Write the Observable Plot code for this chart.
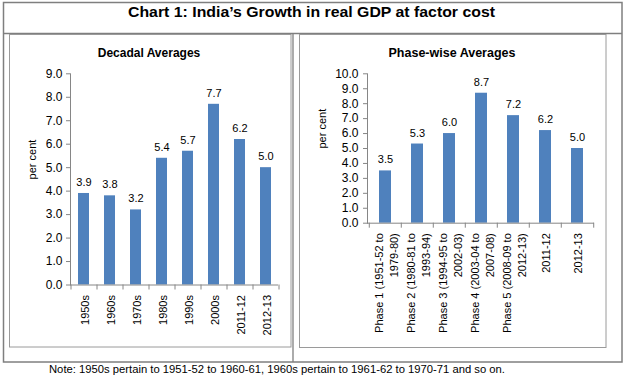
<!DOCTYPE html>
<html>
<head>
<meta charset="utf-8">
<script src="https://cdn.jsdelivr.net/npm/d3@7"></script>
<script src="https://cdn.jsdelivr.net/npm/@observablehq/plot@0.6"></script>
<style>
  html, body { margin: 0; padding: 0; background: #fff; }
  #wrap { position: relative; width: 625px; height: 379px; overflow: hidden; font-family: "Liberation Sans", Arial, sans-serif; }
  .pane { position: absolute; }
  #overlay { position: absolute; left: 0; top: 0; pointer-events: none; }
</style>
</head>
<body>
<div id="wrap">
  <div id="left" class="pane" style="left:9px; top:34px;"></div>
  <div id="right" class="pane" style="left:299px; top:34px;"></div>
</div>
<script>
// ---- data ----
const mainTitle = "Chart 1: India\u2019s Growth in real GDP at factor cost";
const noteText = "Note: 1950s pertain to 1951-52 to 1960-61, 1960s pertain to 1961-62 to 1970-71 and so on.";
const yLabel = "per cent";

const decadalTitle = "Decadal Averages";
const decades = ["1950s", "1960s", "1970s", "1980s", "1990s", "2000s", "2011-12", "2012-13"];
const decadalValues = [3.9, 3.8, 3.2, 5.4, 5.7, 7.7, 6.2, 5.0];
const decadalTicks = [0, 1, 2, 3, 4, 5, 6, 7, 8, 9];

const phaseTitle = "Phase-wise Averages";
const phases = [
  "Phase 1 (1951-52 to\n1979-80)",
  "Phase 2 (1980-81 to\n1993-94)",
  "Phase 3 (1994-95 to\n2002-03)",
  "Phase 4 (2003-04 to\n2007-08)",
  "Phase 5 (2008-09 to\n2012-13)",
  "2011-12",
  "2012-13"
];
const phaseValues = [3.5, 5.3, 6.0, 8.7, 7.2, 6.2, 5.0];
const phaseTicks = [0, 1, 2, 3, 4, 5, 6, 7, 8, 9, 10];

// ---- styles ----
const BAR = "#4F81BD";
const AXIS = "#868686";
const FONT = "'Liberation Sans', Arial, sans-serif";

function makeChart(cats, vals, ticks, opt) {
  const data = cats.map((c, i) => ({c, v: vals[i]}));
  const step = (opt.width - opt.marginLeft - opt.marginRight) / cats.length;
  return Plot.plot({
    width: opt.width,
    height: opt.height,
    marginLeft: opt.marginLeft,
    marginRight: opt.marginRight,
    marginTop: opt.marginTop,
    marginBottom: opt.marginBottom,
    style: {fontFamily: FONT, fontSize: "11px", color: "#000", background: "transparent"},
    x: {domain: cats, paddingInner: opt.pad, paddingOuter: opt.pad / 2, label: null},
    y: {domain: [ticks[0], ticks[ticks.length - 1]], label: null},
    marks: [
      Plot.barY(data, {x: "c", y: "v", fill: BAR}),
      Plot.text(data, {x: "c", y: "v", text: d => d.v.toFixed(1), dy: -11, fill: "#000", fontSize: 11}),
      Plot.ruleY([0], {stroke: AXIS}),
      Plot.frame({anchor: "left", stroke: AXIS}),
      Plot.ruleX(cats, {x: d => d, y1: 0, y2: 0, dx: -step / 2, insetTop: 5, stroke: AXIS}),
      Plot.ruleX([cats[cats.length - 1]], {x: d => d, y1: 0, y2: 0, dx: step / 2, insetTop: 5, stroke: AXIS}),
      Plot.axisY({ticks, tickFormat: d => d.toFixed(1), tickSize: 4, tickPadding: opt.yPad, stroke: AXIS, fill: "#000", fontSize: 12, label: null}),
      Plot.axisX({tickSize: 0, tickPadding: 10, tickRotate: -90, fill: "#000", fontSize: 11, label: null, lineHeight: 1.38}),
      Plot.text([yLabel], {frameAnchor: "left", dx: opt.labelDx, rotate: -90, fill: "#000", fontSize: 11})
    ]
  });
}

document.getElementById("left").append(makeChart(decades, decadalValues, decadalTicks, {
  width: 282, height: 313, marginLeft: 61, marginRight: 13, marginTop: 39.3, marginBottom: 62.5,
  pad: 0.58, yPad: 4, labelDx: -38
}));
document.getElementById("right").append(makeChart(phases, phaseValues, phaseTicks, {
  width: 307, height: 314, marginLeft: 68, marginRight: 12, marginTop: 39.3, marginBottom: 125.3,
  pad: 0.63, yPad: 5, labelDx: -45
}));

// ---- frames and titles ----
const svg = d3.select("#wrap").append("svg")
  .attr("id", "overlay").attr("width", 625).attr("height", 379)
  .style("font-family", FONT);

svg.append("rect").attr("x", 3.5).attr("y", 2.5).attr("width", 618.5).attr("height", 359.5)
  .attr("fill", "none").attr("stroke", "#7f7f7f").attr("stroke-width", 1.5);
svg.append("line").attr("x1", 3.5).attr("x2", 622).attr("y1", 33.5).attr("y2", 33.5)
  .attr("stroke", "#7f7f7f").attr("stroke-width", 1.3);
svg.append("line").attr("x1", 293).attr("x2", 293).attr("y1", 33.5).attr("y2", 362)
  .attr("stroke", "#7f7f7f").attr("stroke-width", 1.3);
svg.append("rect").attr("x", 9.5).attr("y", 34.5).attr("width", 281.5).attr("height", 312.5)
  .attr("fill", "none").attr("stroke", "#9a9a9a").attr("stroke-width", 1);
svg.append("rect").attr("x", 299.5).attr("y", 34.5).attr("width", 306.5).attr("height", 313)
  .attr("fill", "none").attr("stroke", "#9a9a9a").attr("stroke-width", 1);

svg.append("text").text(mainTitle)
  .attr("x", 128).attr("y", 17.3)
  .attr("textLength", 367).attr("lengthAdjust", "spacingAndGlyphs")
  .attr("font-size", 15.5).attr("font-weight", "bold").attr("fill", "#000");

svg.append("text").text(decadalTitle)
  .attr("x", 149).attr("y", 56.5).attr("text-anchor", "middle")
  .attr("font-size", 12).attr("font-weight", "bold").attr("fill", "#000");
svg.append("text").text(phaseTitle)
  .attr("x", 452).attr("y", 56.5).attr("text-anchor", "middle")
  .attr("font-size", 12.5).attr("font-weight", "bold").attr("fill", "#000");

svg.append("text").text(noteText)
  .attr("x", 49).attr("y", 372.5)
  .attr("textLength", 456).attr("lengthAdjust", "spacingAndGlyphs")
  .attr("font-size", 11).attr("fill", "#000");
</script>
</body>
</html>
